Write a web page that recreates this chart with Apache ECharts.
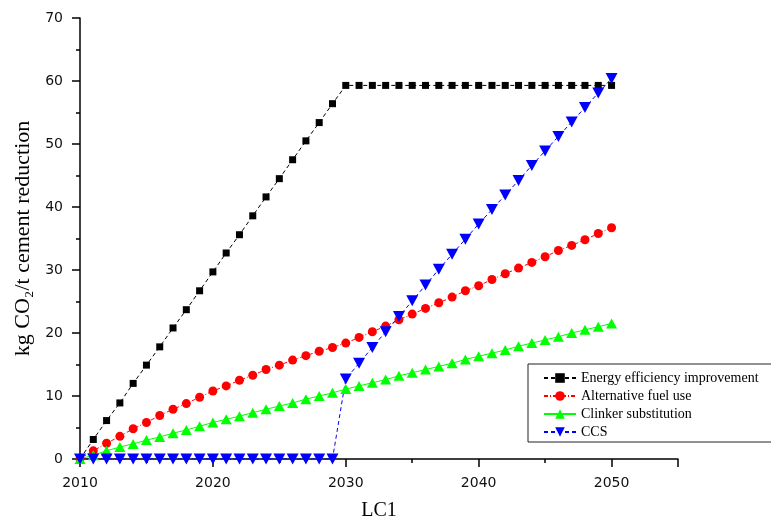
<!DOCTYPE html>
<html>
<head>
<meta charset="utf-8">
<script src="https://cdn.jsdelivr.net/npm/echarts@6/dist/echarts.min.js"></script>
<style>html,body{margin:0;padding:0;background:#fff}#c{width:771px;height:525px}</style>
</head>
<body>
<div id="c"></div>
<script>
const years = [2010,2011,2012,2013,2014,2015,2016,2017,2018,2019,2020,2021,2022,2023,2024,2025,2026,2027,2028,2029,2030,2031,2032,2033,2034,2035,2036,2037,2038,2039,2040,2041,2042,2043,2044,2045,2046,2047,2048,2049,2050];
const energyEfficiency = [0,3.1,6.1,8.9,12.0,14.9,17.8,20.8,23.7,26.7,29.7,32.7,35.6,38.6,41.6,44.5,47.5,50.5,53.4,56.4,59.3,59.3,59.3,59.3,59.3,59.3,59.3,59.3,59.3,59.3,59.3,59.3,59.3,59.3,59.3,59.3,59.3,59.3,59.3,59.3,59.3];
const alternativeFuel = [0,1.3,2.5,3.6,4.8,5.8,6.9,7.9,8.8,9.8,10.8,11.6,12.5,13.3,14.2,14.9,15.7,16.4,17.1,17.7,18.4,19.3,20.2,21.1,22.1,23.0,23.9,24.8,25.7,26.7,27.5,28.5,29.4,30.3,31.2,32.1,33.1,33.9,34.8,35.8,36.7];
const clinkerSubstitution = [0,0.6,1.3,1.9,2.4,3.0,3.5,4.1,4.6,5.2,5.8,6.3,6.8,7.35,7.9,8.4,8.9,9.5,10.0,10.5,11.1,11.6,12.1,12.6,13.2,13.7,14.2,14.7,15.2,15.8,16.3,16.8,17.3,17.9,18.4,18.9,19.4,20.0,20.5,21.0,21.5];
const ccs = [0,0,0,0,0,0,0,0,0,0,0,0,0,0,0,0,0,0,0,0,12.7,15.2,17.7,20.2,22.6,25.1,27.6,30.1,32.5,34.9,37.3,39.6,41.9,44.2,46.6,48.9,51.2,53.5,55.8,58.1,60.4];
const seriesNames = ['Energy efficiency improvement','Alternative fuel use','Clinker substitution','CCS'];
const xTicks = [2010,2020,2030,2040,2050];
const yTicks = [0,10,20,30,40,50,60,70];

const pairs = arr => years.map((y,i)=>[y,arr[i]]);
const chart = echarts.init(document.getElementById('c'), null, {renderer:'canvas'});
const tickFont = {fontFamily:'DejaVu Sans', fontSize:14, color:'#111'};
chart.setOption({
  animation:false,
  backgroundColor:'#fff',
  grid:{left:80, top:18, right:93, bottom:66, containLabel:false, outerBoundsMode:'none'},
  legend:{
    orient:'vertical', left:528, top:364,
    padding:[7,20,3,15], itemGap:4, itemWidth:32, itemHeight:12,
    borderColor:'#222', borderWidth:1, backgroundColor:'#fff',
    textStyle:{fontFamily:'Liberation Serif', fontSize:14, color:'#000'},
    data:seriesNames
  },
  xAxis:{
    type:'value', min:2010, max:2055, interval:10,
    name:'LC1', nameLocation:'middle', nameGap:42,
    nameTextStyle:{fontFamily:'Liberation Serif', fontSize:20, color:'#000'},
    axisLine:{show:true, lineStyle:{color:'#000', width:1.5}},
    axisTick:{show:true, length:8, lineStyle:{color:'#000', width:1.5}},
    minorTick:{show:true, splitNumber:2, length:4, lineStyle:{color:'#000', width:1.5}},
    splitLine:{show:false},
    axisLabel:Object.assign({margin:17, formatter:v => xTicks.includes(v) ? String(v) : ''}, tickFont)
  },
  yAxis:{
    type:'value', min:0, max:70, interval:10,
    name:'kg CO\u2082/t cement reduction', nameLocation:'middle', nameGap:46,
    nameTextStyle:{fontFamily:'Liberation Serif', fontSize:22, color:'#000'},
    axisLine:{show:true, lineStyle:{color:'#000', width:1.5}},
    axisTick:{show:true, length:8, lineStyle:{color:'#000', width:1.5}},
    minorTick:{show:true, splitNumber:2, length:4, lineStyle:{color:'#000', width:1.5}},
    splitLine:{show:false},
    axisLabel:Object.assign({margin:17, formatter:v => yTicks.includes(v) ? String(v) : ''}, tickFont)
  },
  series:[
    {name:seriesNames[0], type:'line', data:pairs(energyEfficiency), symbol:'rect', symbolSize:7,
     itemStyle:{color:'#000'}, lineStyle:{color:'#000', width:1, type:[4,3]}},
    {name:seriesNames[1], type:'line', data:pairs(alternativeFuel), symbol:'circle', symbolSize:9,
     itemStyle:{color:'#ff0000'}, lineStyle:{color:'#ff0000', width:1, type:[4,2,1,2]}},
    {name:seriesNames[2], type:'line', data:pairs(clinkerSubstitution), symbol:'triangle', symbolSize:[11,10],
     itemStyle:{color:'#00ff00'}, lineStyle:{color:'#00ff00', width:1}},
    {name:seriesNames[3], type:'line', data:pairs(ccs), symbol:'triangle', symbolRotate:180, symbolSize:[12,11],
     itemStyle:{color:'#0000ff'}, lineStyle:{color:'#0000ff', width:1, type:[4,3]}}
  ]
});
</script>
</body>
</html>
